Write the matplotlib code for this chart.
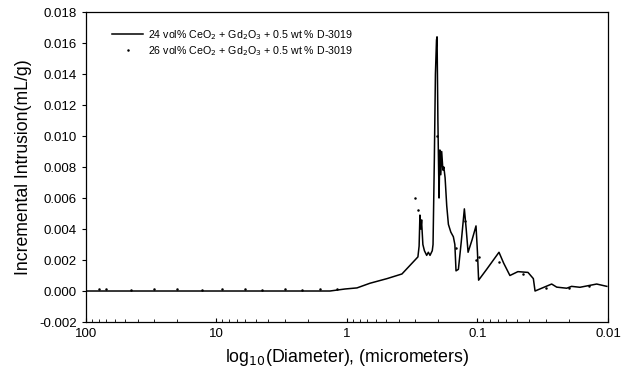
import matplotlib.pyplot as plt
import numpy as np

plt.rcParams['font.family'] = ['Liberation Sans', 'DejaVu Sans']

# pore diameter (micrometers) and incremental intrusion (mL/g), 24 vol% sample
diam_24 = [100, 60, 30, 15, 8, 4, 2, 1.35, 1.035, 0.838, 0.667, 0.493, 0.379,
           0.286, 0.280, 0.276, 0.272, 0.268, 0.262, 0.255, 0.245, 0.238,
           0.231, 0.222, 0.219, 0.214, 0.210, 0.206, 0.204, 0.201, 0.199,
           0.197, 0.194, 0.191, 0.188, 0.184, 0.181, 0.177, 0.172, 0.167,
           0.160, 0.153, 0.149, 0.146, 0.140, 0.133, 0.126, 0.122, 0.118,
           0.110, 0.1026, 0.100, 0.098, 0.085, 0.0684, 0.063, 0.0564, 0.049,
           0.041, 0.0373, 0.0362, 0.027, 0.0247, 0.0207, 0.019, 0.0164,
           0.0122, 0.0102]
incr_24 = [0.0, 0.0, 0.0, 0.0, 0.0, 0.0, 0.0, 0.0, 0.00013, 0.0002, 0.0005,
           0.0008, 0.0011, 0.0022, 0.0029, 0.0049, 0.0040, 0.0045, 0.0030,
           0.0026, 0.0023, 0.0025, 0.0023, 0.0026, 0.0030, 0.0085, 0.0140,
           0.0162, 0.0164, 0.0110, 0.0085, 0.0060, 0.0091, 0.0075, 0.0090,
           0.0078, 0.0080, 0.0073, 0.0055, 0.0043, 0.0038, 0.0035, 0.0030,
           0.0013, 0.0014, 0.0032, 0.0053, 0.0040, 0.0025, 0.0033, 0.0042,
           0.0025, 0.0007, 0.0014, 0.0025, 0.0018, 0.0010, 0.00125, 0.0012,
           0.0008, 0.0, 0.00045, 0.00025, 0.00018, 0.0003, 0.00024, 0.00045,
           0.0003]

# 26 vol% sample, plotted as dots
diam_26 = [80, 70, 45, 30, 20, 13, 9, 6, 4.5, 3, 2.2, 1.6, 1.2, 0.30, 0.285,
           0.270, 0.205, 0.190, 0.147, 0.125, 0.103, 0.098, 0.068, 0.045,
           0.030, 0.020, 0.014]
incr_26 = [0.0001, 0.0001, 0.00005, 0.0001, 0.0001, 0.00005, 0.0001, 0.0001,
           0.00005, 0.0001, 0.00005, 0.0001, 0.0001, 0.0060, 0.0052, 0.0046,
           0.0100, 0.0082, 0.0028, 0.0045, 0.0020, 0.0022, 0.0019, 0.0011,
           0.0002, 0.0002, 0.0003]

yticks = np.arange(-0.002, 0.0181, 0.002)
xticks = [100, 10, 1, 0.1, 0.01]
xticklabels = ['100', '10', '1', '0.1', '0.01']

fig = plt.figure(figsize=(6.3, 3.76), dpi=100)
ax = fig.add_axes([0.1365, 0.1436, 0.8285, 0.8244])

ax.plot(diam_24, incr_24, color='black', lw=1.1,
        label='24 vol% CeO$_2$ + Gd$_2$O$_3$ + 0.5 wt % D-3019')
ax.plot(diam_26, incr_26, ls='none', marker='.', ms=1.6, color='black',
        label='26 vol% CeO$_2$ + Gd$_2$O$_3$ + 0.5 wt % D-3019')

ax.set_xscale('log')
ax.set_xlim(100, 0.01)
ax.set_ylim(-0.002, 0.018)
ax.set_xticks(xticks)
ax.set_xticklabels(xticklabels)
ax.set_yticks(yticks)
ax.set_yticklabels(['%.3f' % v for v in yticks])
ax.tick_params(axis='x', direction='in', length=3, labelsize=9.5, pad=4)
ax.tick_params(axis='x', which='minor', direction='in', length=2)
ax.tick_params(axis='y', direction='out', length=3, labelsize=9.5)

for s in ax.spines.values():
    s.set_linewidth(0.9)

ax.set_xlabel('log$_{10}$(Diameter), (micrometers)', fontsize=12.8, labelpad=5)
ax.set_ylabel('Incremental Intrusion(mL/g)', fontsize=12.7, labelpad=5)

ax.legend(loc='upper left', fontsize=7.7, frameon=False, handlelength=2.9,
          handletextpad=0.45, borderaxespad=0, labelspacing=0.2,
          bbox_to_anchor=(0.042, 0.963))

plt.savefig('out.png', dpi=100)
